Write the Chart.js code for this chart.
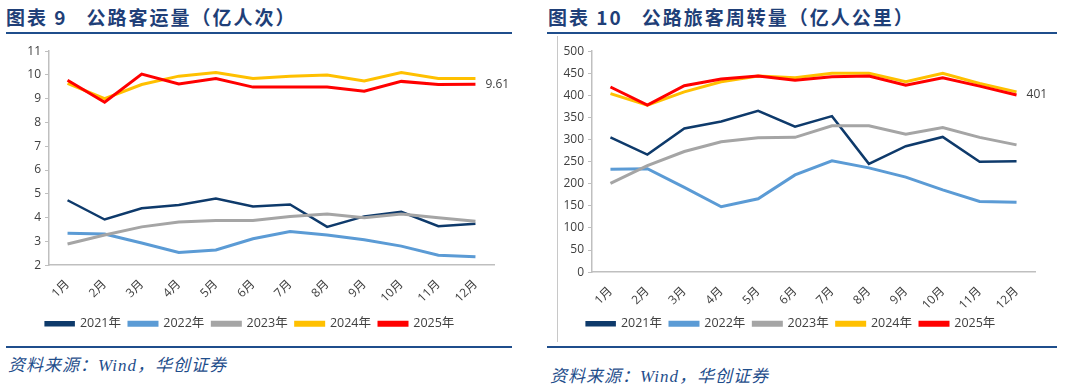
<!DOCTYPE html>
<html>
<head>
<meta charset="utf-8">
<script src="https://cdn.jsdelivr.net/npm/chart.js@4.4.1/dist/chart.umd.min.js"></script>
<style>
  body { margin: 0; width: 1066px; height: 389px; background: #fff; position: relative; overflow: hidden; }
  .title { position: absolute; top: 3px; font-family: "Noto Sans CJK SC", sans-serif; font-weight: 700; font-size: 19px; color: #1f3f78; white-space: nowrap; letter-spacing: 2px; }
  .rule { position: absolute; height: 2px; background: #1f4e8c; }
  .src { position: absolute; font-family: "Liberation Serif", "Noto Sans CJK SC", serif; font-style: italic; font-size: 17px; color: #1f4e8c; white-space: nowrap; letter-spacing: 1px; }
  .box { position: absolute; }
  .vline { position: absolute; width: 1px; background: #c8c8c8; }
</style>
</head>
<body>
<div class="title" style="left:6px;">图表 9&nbsp;&nbsp;&nbsp;公路客运量（亿人次）</div>
<div class="rule" style="left:6px; width:506px; top:32px;"></div>
<div class="title" style="left:548px;">图表 10&nbsp;&nbsp;&nbsp;公路旅客周转量（亿人公里）</div>
<div class="rule" style="left:547px; width:510px; top:32px;"></div>
<div class="vline" style="left:557px; top:36px; height:306px;"></div>

<div class="box" style="left:6px; top:40px; width:510px; height:300px;"><canvas id="c1"></canvas></div>
<div class="box" style="left:547px; top:40px; width:510px; height:300px;"><canvas id="c2"></canvas></div>

<div class="rule" style="left:6px; width:506px; top:346px;"></div>
<div class="rule" style="left:547px; width:510px; top:346px;"></div>
<div class="src" style="left:8px; top:351px;">资料来源：Wind，华创证券</div>
<div class="src" style="left:550px; top:362px;">资料来源：Wind，华创证券</div>

<script>
const months = ['1月','2月','3月','4月','5月','6月','7月','8月','9月','10月','11月','12月'];
const years = ['2021年','2022年','2023年','2024年','2025年'];
const colors = ['#0e3a6b','#5b9bd5','#a5a5a5','#ffc000','#ff0000'];
const widths = [2.5, 3, 3, 3, 3];

// 公路客运量（亿人次）
const ke2021 = [4.73, 3.92, 4.39, 4.53, 4.80, 4.47, 4.55, 3.61, 4.05, 4.24, 3.64, 3.74];
const ke2022 = [3.34, 3.31, 2.93, 2.53, 2.64, 3.11, 3.41, 3.27, 3.07, 2.80, 2.42, 2.35];
const ke2023 = [2.89, 3.27, 3.61, 3.81, 3.88, 3.88, 4.05, 4.15, 3.99, 4.15, 3.99, 3.85];
const ke2024 = [9.65, 9.00, 9.60, 9.95, 10.10, 9.85, 9.95, 10.00, 9.75, 10.10, 9.85, 9.85];
const ke2025 = [9.78, 8.85, 10.04, 9.62, 9.85, 9.49, 9.49, 9.49, 9.32, 9.73, 9.60, 9.61];

// 公路旅客周转量（亿人公里）
const zz2021 = [305, 266, 325, 341, 365, 329, 353, 245, 285, 306, 250, 251];
const zz2022 = [233, 234, 192, 148, 166, 220, 252, 236, 215, 186, 160, 158];
const zz2023 = [201, 241, 273, 295, 304, 305, 331, 331, 312, 327, 305, 288];
const zz2024 = [404, 378, 408, 431, 444, 440, 450, 450, 431, 450, 427, 408];
const zz2025 = [419, 378, 422, 437, 444, 434, 442, 444, 423, 440, 421, 401];

const tickFont = { family: "'Open Sans', 'Noto Sans CJK SC', sans-serif", size: 12 };

const lastLabel = {
    id: 'lastLabel',
    afterDatasetsDraw(chart, args, opts) {
        const meta = chart.getDatasetMeta(4);
        const pt = meta.data[meta.data.length - 1];
        const ctx = chart.ctx;
        ctx.save();
        ctx.font = "12px 'Open Sans', sans-serif";
        ctx.fillStyle = '#404040';
        ctx.textBaseline = 'middle';
        ctx.fillText(opts.text, pt.x + 10, pt.y);
        ctx.restore();
    }
};

function makeChart(id, series, min, max, step, label, yWidth, xShrink) {
    const datasets = series.map((d, i) => ({
        label: years[i],
        data: d,
        borderColor: colors[i],
        backgroundColor: colors[i],
        borderWidth: widths[i],
        pointRadius: 0,
        fill: false,
        tension: 0,
        order: 5 - i
    }));
    return new Chart(document.getElementById(id), {
        type: 'line',
        data: { labels: months, datasets },
        plugins: [lastLabel],
        options: {
            responsive: true,
            maintainAspectRatio: false,
            animation: false,
            layout: { padding: { top: 11, right: 22, left: 0, bottom: 0 } },
            plugins: {
                tooltip: { enabled: false },
                lastLabel: { text: label },
                legend: {
                    position: 'bottom',
                    labels: {
                        boxWidth: 28,
                        boxHeight: 3,
                        padding: 8,
                        color: '#404040',
                        font: { family: "'Open Sans', 'Noto Sans CJK SC', sans-serif", size: 12.5 },
                        sort: (a, b) => a.datasetIndex - b.datasetIndex
                    }
                }
            },
            scales: {
                x: {
                    offset: true,
                    afterFit: s => { s.height = s.height - xShrink; },
                    grid: { display: false },
                    border: { color: '#bfbfbf', width: 1.5 },
                    ticks: { color: '#404040', font: tickFont, maxRotation: 45, minRotation: 45, padding: 4 }
                },
                y: {
                    min, max,
                    afterFit: s => { s.width = yWidth; },
                    grid: { drawOnChartArea: false, tickLength: 4, color: '#bfbfbf' },
                    border: { color: '#bfbfbf', width: 1.5 },
                    ticks: { stepSize: step, color: '#404040', font: tickFont, padding: 4 }
                }
            }
        }
    });
}

makeChart('c1', [ke2021, ke2022, ke2023, ke2024, ke2025], 2, 11, 1, '9.61', 43, 0);
makeChart('c2', [zz2021, zz2022, zz2023, zz2024, zz2025], 0, 500, 50, '401', 45, 7);
</script>
</body>
</html>
